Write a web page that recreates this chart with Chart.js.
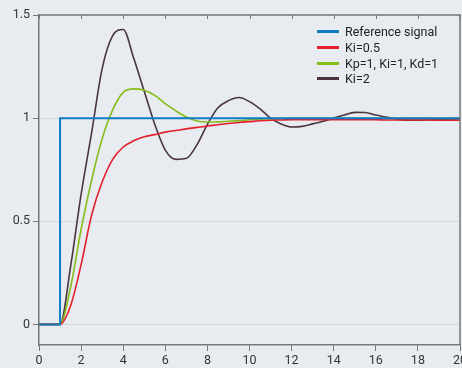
<!DOCTYPE html>
<html>
<head>
<meta charset="utf-8">
<script src="https://cdn.jsdelivr.net/npm/chart.js@4.4.1/dist/chart.umd.min.js"></script>
<style>
  html, body { margin: 0; padding: 0; background: #e8ecf1; }
  .wrap { position: relative; width: 462px; height: 368px; }
  #legend { position: absolute; left: 317px; top: 24px; font: 12.5px Roboto, sans-serif; color: #222; }
  #legend div { display: flex; align-items: center; height: 15.7px; }
  #legend span.sw { display: inline-block; width: 22px; height: 3px; margin-right: 6px; }
</style>
</head>
<body>
<div class="wrap">
  <canvas id="chart" width="462" height="368"></canvas>
  <div id="legend"></div>
</div>
<script>
// step input
const refTime = [0, 1, 1, 20];
const refValue = [0, 0, 1, 1];

// shared time axis for the responses
const time = [0, 0.5, 1, 1.5, 2, 2.5, 3, 3.5, 4, 4.5, 5, 5.5, 6, 6.5, 7, 7.5, 8, 8.5, 9, 9.5, 10,
              10.5, 11, 11.5, 12, 12.5, 13, 13.5, 14, 14.5, 15, 15.5, 16, 16.5, 17, 17.5, 18, 18.5, 19, 19.5, 20];

const ki05 = [0, 0, 0, 0.09, 0.29, 0.53, 0.69, 0.80, 0.86, 0.89, 0.91, 0.92, 0.932, 0.94, 0.948, 0.955, 0.962, 0.968, 0.974, 0.979, 0.983,
              0.987, 0.99, 0.991, 0.992, 0.992, 0.992, 0.992, 0.992, 0.992, 0.992, 0.992, 0.992, 0.991, 0.991, 0.991, 0.991, 0.991, 0.99, 0.99, 0.99];

const pid111 = [0, 0, 0, 0.18, 0.46, 0.70, 0.90, 1.04, 1.125, 1.142, 1.135, 1.11, 1.07, 1.035, 1.005, 0.986, 0.981, 0.982, 0.985, 0.988, 0.992,
                0.995, 0.997, 0.998, 0.999, 0.999, 0.999, 0.999, 0.999, 0.999, 0.999, 0.999, 0.999, 0.999, 0.999, 0.999, 0.999, 0.999, 0.999, 0.999, 0.999];

const ki2 = [0, 0, 0, 0.28, 0.63, 0.93, 1.24, 1.40, 1.43, 1.29, 1.13, 0.97, 0.845, 0.80, 0.805, 0.87, 0.97, 1.05, 1.085, 1.10, 1.08,
             1.045, 1.00, 0.972, 0.957, 0.96, 0.972, 0.985, 1.0, 1.015, 1.028, 1.027, 1.015, 1.005, 0.995, 0.99, 0.99, 0.992, 0.994, 0.995, 0.996];

const labels = ['Reference signal', 'Ki=0.5', 'Kp=1, Ki=1, Kd=1', 'Ki=2'];
const colors = ['#0f7cc3', '#e3202c', '#86bd1b', '#4a3440'];

const pts = (xs, ys) => xs.map((x, i) => ({ x: x, y: ys[i] }));

// top/right frame with inward ticks
const framePlugin = {
    id: 'frame',
    afterDraw(chart) {
        const { ctx, chartArea } = chart;
        const xs = chart.scales.x;
        ctx.save();
        ctx.strokeStyle = '#777';
        ctx.lineWidth = 1.5;
        ctx.beginPath();
        ctx.moveTo(chartArea.left, chartArea.top);
        ctx.lineTo(chartArea.right, chartArea.top);
        ctx.lineTo(chartArea.right, chartArea.bottom);
        ctx.stroke();
        ctx.lineWidth = 1;
        xs.ticks.forEach(t => {
            const px = Math.round(xs.getPixelForValue(t.value)) + 0.5;
            ctx.beginPath();
            ctx.moveTo(px, chartArea.top);
            ctx.lineTo(px, chartArea.top + 4);
            ctx.stroke();
        });
        ctx.restore();
    }
};

const font = { family: 'Roboto, sans-serif', size: 12.5 };

const chart = new Chart(document.getElementById('chart'), {
    type: 'line',
    data: {
        datasets: [
            { label: labels[0], data: pts(refTime, refValue), borderColor: colors[0], borderWidth: 2, tension: 0 },
            { label: labels[1], data: pts(time, ki05), borderColor: colors[1], borderWidth: 1.6, cubicInterpolationMode: 'monotone' },
            { label: labels[2], data: pts(time, pid111), borderColor: colors[2], borderWidth: 1.6, cubicInterpolationMode: 'monotone' },
            { label: labels[3], data: pts(time, ki2), borderColor: colors[3], borderWidth: 1.6, cubicInterpolationMode: 'monotone' }
        ]
    },
    options: {
        responsive: false,
        animation: false,
        elements: { point: { radius: 0 } },
        layout: { padding: { top: 15, right: 2, left: 0, bottom: 0 } },
        plugins: { legend: { display: false }, tooltip: { enabled: false } },
        scales: {
            x: {
                type: 'linear',
                min: 0,
                max: 20,
                ticks: { stepSize: 2, color: '#333', font: font, padding: 2, maxRotation: 0 },
                grid: { drawOnChartArea: false, tickLength: 6, tickColor: '#777' },
                border: { color: '#777', width: 1.5 },
                afterFit(s) { s.height = 23; s.paddingLeft = 0; s.paddingRight = 0; }
            },
            y: {
                min: -0.1,
                max: 1.5,
                ticks: { stepSize: 0.5, color: '#333', font: font, padding: 3, callback: v => String(v) },
                grid: { color: '#d5d9df', tickLength: 6, tickColor: '#777' },
                border: { color: '#777', width: 1.5 },
                afterBuildTicks(s) { s.ticks = s.ticks.filter(t => t.value >= 0); },
                afterFit(s) { s.width = 39; s.paddingTop = 0; s.paddingBottom = 0; }
            }
        }
    },
    plugins: [framePlugin]
});

const legend = document.getElementById('legend');
chart.data.datasets.forEach(ds => {
    const row = document.createElement('div');
    row.innerHTML = '<span class="sw" style="background:' + ds.borderColor + '"></span>' + ds.label;
    legend.appendChild(row);
});
</script>
</body>
</html>
